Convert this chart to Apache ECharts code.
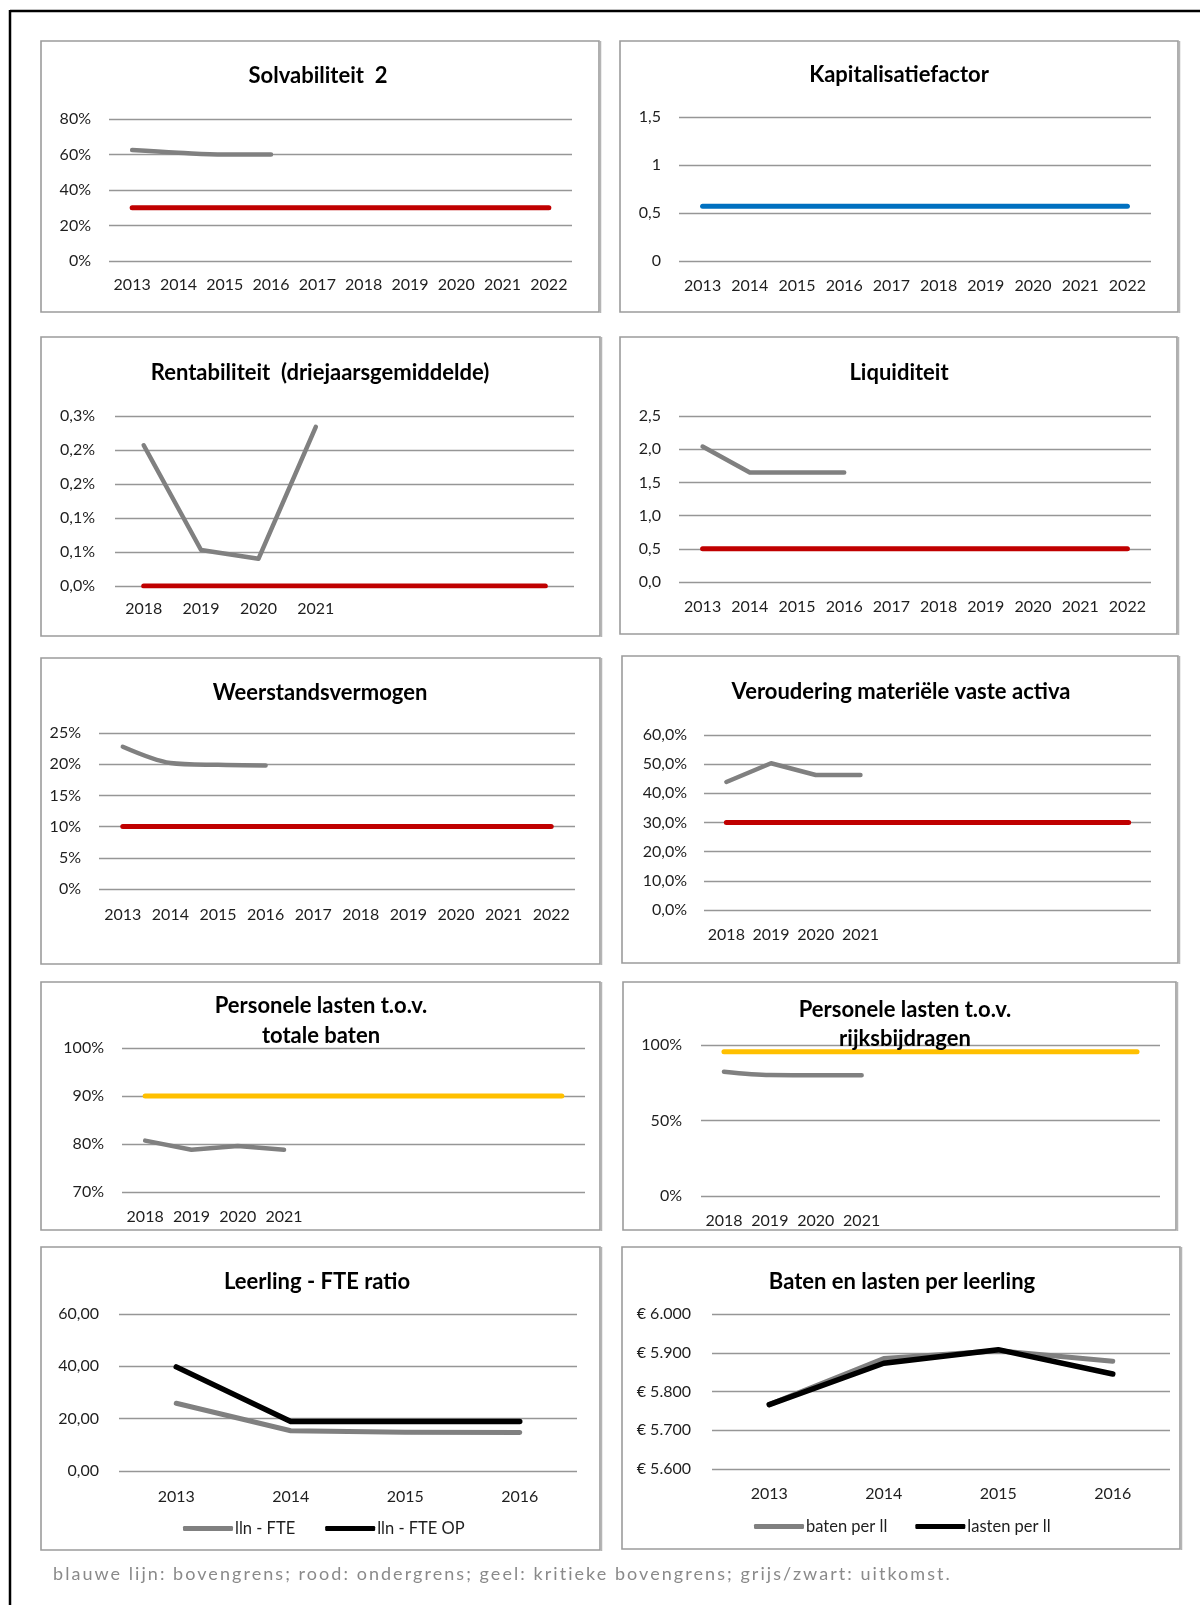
<!DOCTYPE html>
<html>
<head>
<meta charset="utf-8">
<script src="https://cdn.jsdelivr.net/npm/echarts@6/dist/echarts.min.js"></script>
<style>
  html, body { margin: 0; padding: 0; background: #ffffff; }
  #wrap { position: relative; width: 1200px; height: 1605px; overflow: hidden; }
  #c { width: 1200px; height: 1605px; }
  #toelichting {
    position: absolute; left: 53px; top: 1561px;
    font-family: Lato, "Open Sans", sans-serif; font-size: 18px; line-height: 24px;
    letter-spacing: 2.05px; color: #8a8a8a; white-space: nowrap;
  }
</style>
</head>
<body>
<div id="wrap">
  <div id="c"></div>
  <div id="toelichting">blauwe lijn: bovengrens; rood: ondergrens; geel: kritieke bovengrens; grijs/zwart: uitkomst.</div>
</div>
<script>
// ---- categories ----
const jaren2013 = ['2013', '2014', '2015', '2016', '2017', '2018', '2019', '2020', '2021', '2022'];
const jaren2018kort = ['2018', '2019', '2020', '2021', '', '', '', ''];
const jaren2018lang = ['2018', '2019', '2020', '2021', '', '', '', '', '', ''];
const jaren2013kort = ['2013', '2014', '2015', '2016'];

// ---- Solvabiliteit 2 (%) ----
const solvabiliteit = [62.5, 61, 60, 60];
const solvabiliteitOndergrens = [30, 30, 30, 30, 30, 30, 30, 30, 30, 30];

// ---- Kapitalisatiefactor ----
const kapitalisatieBovengrens = [0.57, 0.57, 0.57, 0.57, 0.57, 0.57, 0.57, 0.57, 0.57, 0.57];

// ---- Rentabiliteit, driejaarsgemiddelde (%) ----
const rentabiliteit = [0.207, 0.053, 0.040, 0.234];
const rentabiliteitOndergrens = [0, 0, 0, 0, 0, 0, 0, 0];

// ---- Liquiditeit ----
const liquiditeit = [2.04, 1.65, 1.65, 1.65];
const liquiditeitOndergrens = [0.5, 0.5, 0.5, 0.5, 0.5, 0.5, 0.5, 0.5, 0.5, 0.5];

// ---- Weerstandsvermogen (%) ----
const weerstandsvermogen = [22.8, 20.2, 19.9, 19.8];
const weerstandOndergrens = [10, 10, 10, 10, 10, 10, 10, 10, 10, 10];

// ---- Veroudering materiële vaste activa (%) ----
const veroudering = [43.9, 50.3, 46.3, 46.3];
const verouderingOndergrens = [30, 30, 30, 30, 30, 30, 30, 30, 30, 30];

// ---- Personele lasten t.o.v. totale baten (%) ----
const personeelBaten = [80.7, 78.8, 79.6, 78.8];
const personeelBatenKritiek = [90, 90, 90, 90, 90, 90, 90, 90, 90, 90];

// ---- Personele lasten t.o.v. rijksbijdragen (%) ----
const personeelRijk = [82.3, 80.1, 80, 80];
const personeelRijkKritiek = [95.5, 95.5, 95.5, 95.5, 95.5, 95.5, 95.5, 95.5, 95.5, 95.5];

// ---- Leerling - FTE ratio ----
const llnFte = [25.9, 15.4, 14.8, 14.7];
const llnFteOp = [39.8, 18.9, 18.9, 18.9];

// ---- Baten en lasten per leerling (€) ----
const batenPerLl = [5766, 5885, 5905, 5878];
const lastenPerLl = [5766, 5873, 5908, 5845];

// ---- tick label texts ----
const fmtPct = v => v + '%';
const fmtKapitalisatie = v => String(v).replace('.', ',');
const fmtRent = v => (Math.round(v * 10 + 1e-9) / 10).toFixed(1).replace('.', ',') + '%';
const fmtEen = v => v.toFixed(1).replace('.', ',');
const fmtPctEen = v => v.toFixed(1).replace('.', ',') + '%';
const fmtTwee = v => v.toFixed(2).replace('.', ',');
const fmtEuro = v => '€ ' + Math.round(v).toString().replace(/\B(?=(\d{3})+(?!\d))/g, '.');

// ---- styling ----
const FONT = 'Lato, "Open Sans", sans-serif';
const GRIJS = '#808080';
const ROOD = '#C00000';
const BLAUW = '#0070C0';
const GEEL = '#FFC000';
const ZWART = '#000000';
const RASTER = '#969696';
const TEKST = '#1e1e1e';

const grids = [], xAxes = [], yAxes = [], series = [], graphics = [];

function paneel(p) {
  const i = grids.length;
  grids.push({ left: p.grid[0], top: p.grid[1], width: p.grid[2], height: p.grid[3],
               containLabel: false, outerBoundsMode: 'none' });
  xAxes.push({
    type: 'category', gridIndex: i, data: p.cats, boundaryGap: true,
    axisLine: { show: false }, axisTick: { show: false }, splitLine: { show: false },
    axisLabel: { color: TEKST, fontSize: 16, fontFamily: FONT, margin: p.xm, interval: 0 }
  });
  yAxes.push({
    type: 'value', gridIndex: i, min: p.min, max: p.max, interval: p.step,
    axisLine: { show: false }, axisTick: { show: false },
    splitLine: { show: true, lineStyle: { color: RASTER, width: 1.4 } },
    axisLabel: { color: TEKST, fontSize: 16, fontFamily: FONT, margin: p.ym,
                 formatter: p.fmt, showMinLabel: true, showMaxLabel: true }
  });
  p.lines.forEach(l => {
    series.push({
      type: 'line', name: l.name, xAxisIndex: i, yAxisIndex: i, data: l.data,
      symbol: 'none', smooth: l.smooth || false, z: l.z || 2,
      itemStyle: { color: l.color },
      lineStyle: { color: l.color, width: l.width || 5, cap: 'round', join: 'round' },
      emphasis: { disabled: true }, animation: false
    });
  });
  // panel frame
  graphics.push({ type: 'rect', shape: { x: p.box[0], y: p.box[1], width: p.box[2] - p.box[0], height: p.box[3] - p.box[1] },
                  style: { fill: null, stroke: '#9c9c9c', lineWidth: 1.6 }, z: 1 });
  graphics.push({ type: 'line', shape: { x1: p.box[2] + 1.5, y1: p.box[1], x2: p.box[2] + 1.5, y2: p.box[3] + 1 },
                  style: { stroke: '#b5b5b5', lineWidth: 1.5 }, z: 1 });
  // title
  p.title.forEach(t => {
    graphics.push({ type: 'text', x: t[1], y: t[2], z: 5,
                    style: { text: t[0], fill: '#000', font: 'bold 22px ' + FONT, align: 'center', verticalAlign: 'middle' } });
  });
}

paneel({ box: [41, 41, 599, 312], grid: [109, 119, 463, 142], cats: jaren2013,
         min: 0, max: 80, step: 20, fmt: fmtPct, xm: 16, ym: 18,
         title: [['Solvabiliteit  2', 318, 76]],
         lines: [{ data: solvabiliteitOndergrens, color: ROOD }, { data: solvabiliteit, color: GRIJS, width: 4.5, smooth: 0.4, z: 3 }] });

paneel({ box: [620, 41, 1178, 312], grid: [679, 117, 472, 144], cats: jaren2013,
         min: 0, max: 1.5, step: 0.5, fmt: fmtKapitalisatie, xm: 17, ym: 18,
         title: [['Kapitalisatiefactor', 899, 75]],
         lines: [{ data: kapitalisatieBovengrens, color: BLAUW }] });

paneel({ box: [41, 337, 600, 636], grid: [115, 416, 459, 170], cats: jaren2018kort,
         min: 0, max: 0.25, step: 0.05, fmt: fmtRent, xm: 15, ym: 20,
         title: [['Rentabiliteit  (driejaarsgemiddelde)', 320, 373]],
         lines: [{ data: rentabiliteitOndergrens, color: ROOD }, { data: rentabiliteit, color: GRIJS, width: 4.5, z: 3 }] });

paneel({ box: [620, 337, 1177, 634], grid: [679, 416, 472, 166], cats: jaren2013,
         min: 0, max: 2.5, step: 0.5, fmt: fmtEen, xm: 17, ym: 18,
         title: [['Liquiditeit', 899, 373]],
         lines: [{ data: liquiditeitOndergrens, color: ROOD }, { data: liquiditeit, color: GRIJS, width: 4.5, z: 3 }] });

paneel({ box: [41, 658, 600, 964], grid: [99, 733, 476, 156], cats: jaren2013,
         min: 0, max: 25, step: 5, fmt: fmtPct, xm: 18, ym: 18,
         title: [['Weerstandsvermogen', 320, 693]],
         lines: [{ data: weerstandOndergrens, color: ROOD }, { data: weerstandsvermogen, color: GRIJS, width: 4.5, smooth: 0.3, z: 3 }] });

paneel({ box: [622, 656, 1178, 963], grid: [704, 735, 447, 175], cats: jaren2018lang,
         min: 0, max: 60, step: 10, fmt: fmtPctEen, xm: 17, ym: 17,
         title: [['Veroudering materiële vaste activa', 901, 692]],
         lines: [{ data: verouderingOndergrens, color: ROOD }, { data: veroudering, color: GRIJS, width: 4.5, z: 3 }] });

paneel({ box: [41, 982, 600, 1230], grid: [122, 1048, 463, 144], cats: jaren2018lang,
         min: 70, max: 100, step: 10, fmt: fmtPct, xm: 17, ym: 18,
         title: [['Personele lasten t.o.v.', 321, 1006], ['totale baten', 321, 1036]],
         lines: [{ data: personeelBatenKritiek, color: GEEL }, { data: personeelBaten, color: GRIJS, width: 4.5, z: 3 }] });

paneel({ box: [623, 982, 1176, 1230], grid: [701, 1045, 459, 151], cats: jaren2018lang,
         min: 0, max: 100, step: 50, fmt: fmtPct, xm: 17, ym: 19,
         title: [['Personele lasten t.o.v.', 905, 1010], ['rijksbijdragen', 905, 1039]],
         lines: [{ data: personeelRijkKritiek, color: GEEL }, { data: personeelRijk, color: GRIJS, width: 4.5, smooth: 0.3, z: 3 }] });

paneel({ box: [41, 1247, 600, 1550], grid: [119, 1314, 458, 157], cats: jaren2013kort,
         min: 0, max: 60, step: 20, fmt: fmtTwee, xm: 18, ym: 20,
         title: [['Leerling - FTE ratio', 317, 1282]],
         lines: [{ name: 'lln - FTE', data: llnFte, color: GRIJS, width: 5 }, { name: 'lln - FTE OP', data: llnFteOp, color: ZWART, width: 5.5, z: 3 }] });

paneel({ box: [622, 1247, 1180, 1549], grid: [712, 1314, 458, 155], cats: jaren2013kort,
         min: 5600, max: 6000, step: 100, fmt: fmtEuro, xm: 17, ym: 21,
         title: [['Baten en lasten per leerling', 902, 1282]],
         lines: [{ name: 'baten per ll', data: batenPerLl, color: GRIJS, width: 5 }, { name: 'lasten per ll', data: lastenPerLl, color: ZWART, width: 5.5, z: 3 }] });

// outer frame of the page block
graphics.push({ type: 'line', shape: { x1: 10, y1: 11, x2: 1200, y2: 11 }, style: { stroke: '#000', lineWidth: 2.5 } });
graphics.push({ type: 'line', shape: { x1: 10, y1: 10, x2: 10, y2: 1605 }, style: { stroke: '#000', lineWidth: 2.5 } });

const legendBasis = { orient: 'horizontal', itemWidth: 50, itemHeight: 5, icon: 'roundRect',
                      textStyle: { color: TEKST, fontSize: 16.5, fontFamily: FONT, padding: [0, 0, 0, -3] },
                      selectedMode: false };

const chart = echarts.init(document.getElementById('c'), null, { renderer: 'canvas', width: 1200, height: 1605 });
chart.setOption({
  animation: false,
  backgroundColor: '#ffffff',
  grid: grids,
  xAxis: xAxes,
  yAxis: yAxes,
  series: series,
  legend: [
    Object.assign({}, legendBasis, { data: ['lln - FTE', 'lln - FTE OP'], left: 178, top: 1515, itemGap: 30 }),
    Object.assign({}, legendBasis, { data: ['baten per ll', 'lasten per ll'], left: 749, top: 1513, itemGap: 28 })
  ],
  graphic: graphics
});
</script>
</body>
</html>
